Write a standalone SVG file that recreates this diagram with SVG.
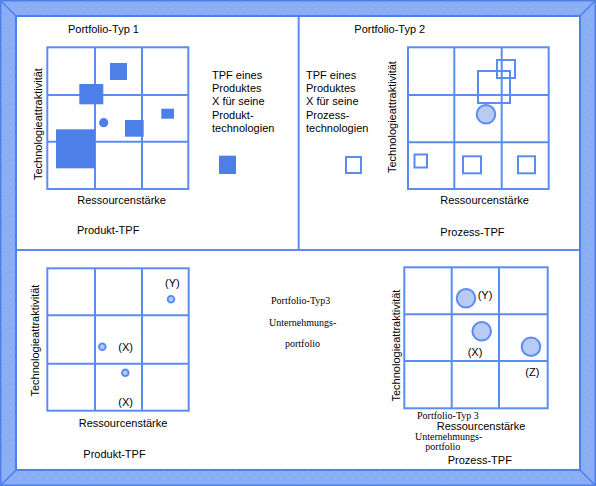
<svg xmlns="http://www.w3.org/2000/svg" width="596" height="486" viewBox="0 0 596 486">
<defs>
<pattern id="dots" width="9" height="7" patternUnits="userSpaceOnUse">
<rect width="9" height="7" fill="#8aaef6"/>
<circle cx="2" cy="2" r="0.6" fill="#b9c7e6"/>
<circle cx="6.5" cy="5" r="0.6" fill="#a6b8dc"/>
</pattern>
<style>
.s{font-family:"Liberation Sans",Arial,sans-serif;font-size:11px;fill:#000}
.r{font-family:"Liberation Serif","Times New Roman",serif;font-size:10px;fill:#000}
.g{fill:none;stroke:#5b8cf0;stroke-width:2}
.f{fill:#4d7fe9}
.h{fill:none;stroke:#5b8cf0;stroke-width:2}
.c{fill:#b8cbf4;stroke:#5b8cf0;stroke-width:2}
.e{stroke:#4f7fe8;stroke-width:1.5;fill:none}
</style>
</defs>
<g id="frame">
<rect x="0" y="0" width="596" height="486" fill="url(#dots)"/>
<rect x="0.75" y="0.75" width="594.5" height="484.5" class="e"/>
<line x1="0" y1="0" x2="17" y2="17" class="e"/>
<line x1="596" y1="0" x2="579" y2="17" class="e"/>
<line x1="0" y1="486" x2="17" y2="469" class="e"/>
<line x1="596" y1="486" x2="579" y2="469" class="e"/>
<rect x="16" y="16" width="564" height="454" fill="#fff" stroke="#4f7fe8" stroke-width="2"/>
<line x1="17" y1="250" x2="579" y2="250" stroke="#5b8cf0" stroke-width="2"/>
<line x1="298.7" y1="17" x2="298.7" y2="250" stroke="#5b8cf0" stroke-width="2"/>
</g>
<g id="portfolio1">
<text class="s" x="68" y="33">Portfolio-Typ 1</text>
<g class="g">
<rect x="47.3" y="47.3" width="141" height="141.7"/>
<line x1="95" y1="47.3" x2="95" y2="189"/>
<line x1="142" y1="47.3" x2="142" y2="189"/>
<line x1="47.3" y1="95" x2="188.3" y2="95"/>
<line x1="47.3" y1="141.7" x2="188.3" y2="141.7"/>
</g>
<rect class="f" x="110" y="63" width="17" height="17"/>
<rect class="f" x="79.3" y="84" width="24" height="20.3"/>
<circle class="f" cx="103.7" cy="122.7" r="4.6"/>
<rect class="f" x="125" y="120" width="18.7" height="16.7"/>
<rect class="f" x="161.3" y="108.7" width="12.7" height="10"/>
<rect class="f" x="56" y="129.3" width="39" height="39"/>
<text class="s" transform="translate(42,180) rotate(-90)">Technologieattraktivität</text>
<text class="s" x="77.3" y="204">Ressourcenstärke</text>
<text class="s" x="77" y="234">Produkt-TPF</text>
<text class="s" x="212" y="79">TPF eines</text>
<text class="s" x="212" y="92.2">Produktes</text>
<text class="s" x="212" y="105.4">X für seine</text>
<text class="s" x="212" y="118.6">Produkt-</text>
<text class="s" x="212" y="131.8">technologien</text>
<rect class="f" x="219" y="155.7" width="17" height="18.3"/>
</g>
<g id="portfolio2">
<text class="s" x="354.3" y="33">Portfolio-Typ 2</text>
<text class="s" x="306" y="79">TPF eines</text>
<text class="s" x="306" y="92.2">Produktes</text>
<text class="s" x="306" y="105.4">X für seine</text>
<text class="s" x="306" y="118.6">Prozess-</text>
<text class="s" x="306" y="131.8">technologien</text>
<rect class="h" x="346" y="157" width="15" height="16"/>
<text class="s" transform="translate(395.5,173) rotate(-90)">Technologieattraktivität</text>
<g class="g">
<rect x="408" y="47.3" width="140.7" height="141.7"/>
<line x1="454.3" y1="47.3" x2="454.3" y2="189"/>
<line x1="501.7" y1="47.3" x2="501.7" y2="189"/>
<line x1="408" y1="95" x2="548.7" y2="95"/>
<line x1="408" y1="142.3" x2="548.7" y2="142.3"/>
</g>
<rect class="h" x="497" y="60" width="18" height="18"/>
<rect class="h" x="478" y="71" width="32" height="32"/>
<circle class="c" cx="486" cy="114.3" r="9.3"/>
<rect class="h" x="414.5" y="154.5" width="12.5" height="13"/>
<rect class="h" x="463" y="156.3" width="18" height="17"/>
<rect class="h" x="518" y="156.3" width="17" height="17"/>
<text class="s" x="440.3" y="204">Ressourcenstärke</text>
<text class="s" x="440.3" y="236">Prozess-TPF</text>
</g>
<g id="portfolio3-produkt">
<g class="g">
<rect x="47.3" y="268.3" width="141.4" height="142.4"/>
<line x1="95" y1="268.3" x2="95" y2="410.7"/>
<line x1="142" y1="268.3" x2="142" y2="410.7"/>
<line x1="47.3" y1="315.3" x2="188.7" y2="315.3"/>
<line x1="47.3" y1="363.7" x2="188.7" y2="363.7"/>
</g>
<circle class="c" cx="171" cy="299.3" r="3.3"/>
<circle class="c" cx="102.3" cy="346.7" r="3.3"/>
<circle class="c" cx="125.3" cy="372.7" r="3.3"/>
<text class="s" x="165" y="286.7">(Y)</text>
<text class="s" x="118.3" y="351">(X)</text>
<text class="s" x="118.3" y="405.7">(X)</text>
<text class="s" transform="translate(38.5,396.5) rotate(-90)">Technologieattraktivität</text>
<text class="s" x="78.7" y="426.7">Ressourcenstärke</text>
<text class="s" x="83.3" y="458.3">Produkt-TPF</text>
</g>
<g id="portfolio3-label">
<text class="r" x="271" y="304.3">Portfolio-Typ3</text>
<text class="r" x="269" y="326.3">Unternehmungs-</text>
<text class="r" x="285" y="346.7">portfolio</text>
</g>
<g id="portfolio3-prozess">
<g class="g">
<rect x="404.3" y="267.3" width="143.4" height="141"/>
<line x1="451.7" y1="267.3" x2="451.7" y2="408.3"/>
<line x1="499" y1="267.3" x2="499" y2="408.3"/>
<line x1="404.3" y1="314.3" x2="547.7" y2="314.3"/>
<line x1="404.3" y1="361" x2="547.7" y2="361"/>
</g>
<circle class="c" cx="466" cy="298.3" r="9.3"/>
<circle class="c" cx="481.7" cy="331.3" r="9.3"/>
<circle class="c" cx="531" cy="346.7" r="9.3"/>
<text class="s" x="477.7" y="299">(Y)</text>
<text class="s" x="467.7" y="356">(X)</text>
<text class="s" x="525.3" y="375.7">(Z)</text>
<text class="s" transform="translate(400,401.5) rotate(-90)">Technologieattraktivität</text>
<text class="r" x="417" y="419">Portfolio-Typ 3</text>
<text class="s" x="436.7" y="429.5">Ressourcenstärke</text>
<text class="r" x="415" y="440">Unternehmungs-</text>
<text class="r" x="425.3" y="450">portfolio</text>
<text class="s" x="447.7" y="464">Prozess-TPF</text>
</g>
</svg>
